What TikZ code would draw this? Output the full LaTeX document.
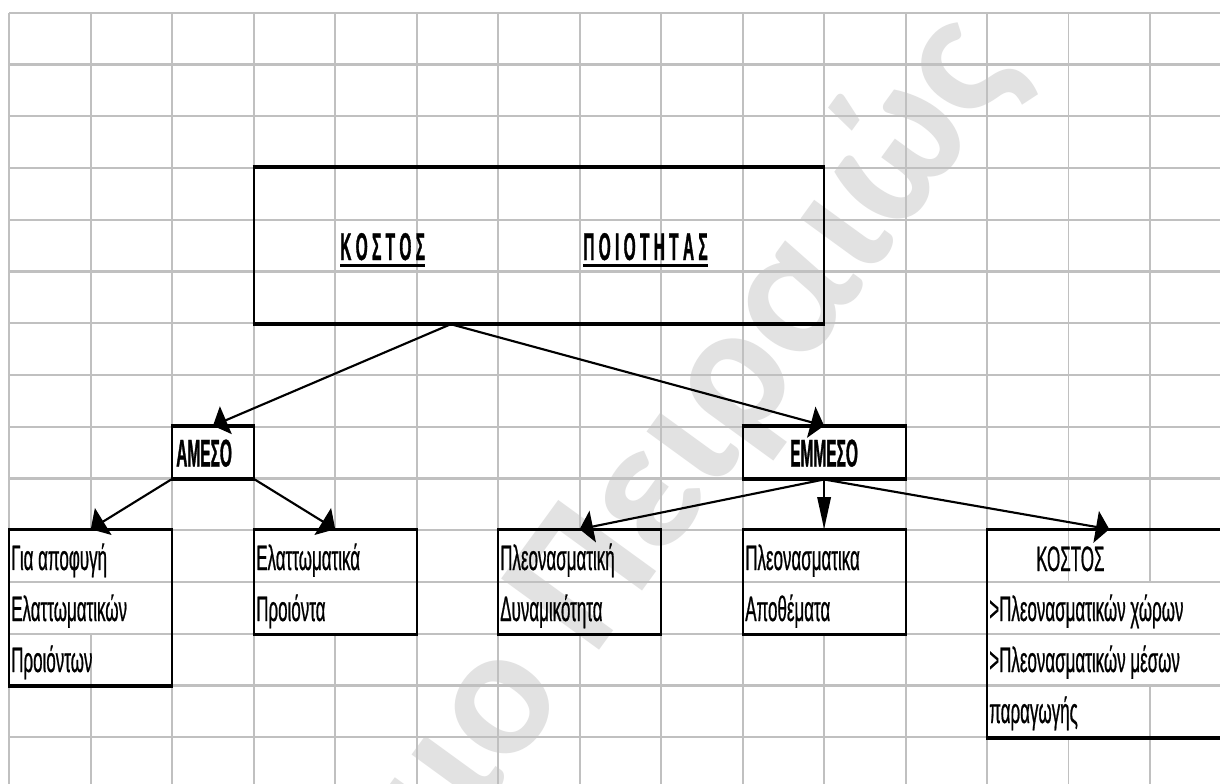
\documentclass[tikz,border=0pt]{standalone}
\usepackage{fontspec}
\setmainfont{Liberation Sans}
\newfontfamily\cellfont[FakeStretch=0.48,FakeBold=0.6]{Liberation Sans}
\newfontfamily\cellbold[FakeStretch=0.40,FakeBold=0.8]{Liberation Sans Bold}
\newfontfamily\markfont{Carlito Bold}
\usetikzlibrary{arrows.meta,calc}

\definecolor{gridgray}{HTML}{C0C0C0}
\definecolor{markgray}{HTML}{E2E2E2}

\tikzset{
  hline/.style={draw=gridgray, line width=1.7pt},
  vline/.style={draw=gridgray, line width=1.4pt},
  cellbox/.style={draw=black, line width=1.5pt, inner sep=0pt, rectangle},
  edgebar/.style={draw=black, line width=2.4pt},
  celltext/.style={inner sep=0pt, anchor=base west, font=\cellfont\fontsize{26.5pt}{26.5pt}\selectfont},
  boldtext/.style={inner sep=0pt, font=\cellbold\fontsize{29pt}{29pt}\selectfont},
  conn/.style={draw=black, line width=1.6pt},
  % arrow heads: short and tall on shallow lines, long and narrow on the vertical one
  flathead/.style={-{Triangle[length=10pt,width=24pt]}},
  steephead/.style={-{Triangle[length=11pt,width=23.5pt]}},
  uprighthead/.style={-{Triangle[length=24pt,width=10pt]}},
  uline/.style={draw=black, line width=2.5pt},
}

\begin{document}
\begin{tikzpicture}[x=0.75pt,y=-0.75pt]
\path[use as bounding box] (0,0) rectangle (1220,783);
\clip (0,0) rectangle (1220,783);
\fill[white] (0,0) rectangle (1220,783);

% watermark
\node[rotate=54, anchor=base east, text=markgray,
      font=\markfont\fontsize{140pt}{140pt}\selectfont] (wm) at (1025,65) {Πανεπιστήμιο Πειραιώς};

% horizontal grid lines
\foreach \j in {0,...,14}
  \draw[hline] (9.3,12.7+51.75*\j) -- (1240,12.7+51.75*\j);

% vertical grid lines that run uninterrupted
\foreach \i in {0,2,3,5,6,8,9,11,12}
  \draw[vline] (9.3+81.48*\i,12.7) -- (9.3+81.48*\i,800);

% vertical grid lines broken where cell text spills over
\foreach \i in {1,4,7} {
  \draw[vline] (9.3+81.48*\i,12.7) -- (9.3+81.48*\i,530.2);
  \draw[vline] (9.3+81.48*\i,633.7) -- (9.3+81.48*\i,800);
}
\draw[vline] (824.1,12.7) -- (824.1,426.7);
\draw[vline] (824.1,478.45) -- (824.1,530.2);
\draw[vline] (824.1,633.7) -- (824.1,800);
\draw[vline] (1068.54,12.7) -- (1068.54,581.95);
\draw[vline] (1068.54,737.2) -- (1068.54,800);
\draw[vline] (1150.02,12.7) -- (1150.02,581.95);
\draw[vline] (1150.02,685.45) -- (1150.02,800);

% boxes
\node[cellbox, minimum width=427.77pt, minimum height=116.44pt] (main) at (538.92,245.575) {};
\node[cellbox, minimum width=61.11pt, minimum height=38.81pt] (ameso) at (213,452.575) {};
\node[cellbox, minimum width=122.22pt, minimum height=38.81pt] (emmeso) at (824.1,452.575) {};
\node[cellbox, minimum width=122.22pt, minimum height=116.44pt] (b1) at (90.78,607.825) {};
\node[cellbox, minimum width=122.22pt, minimum height=77.625pt] (b2) at (335.22,581.95) {};
\node[cellbox, minimum width=122.22pt, minimum height=77.625pt] (b3) at (579.66,581.95) {};
\node[cellbox, minimum width=122.22pt, minimum height=77.625pt] (b4) at (824.1,581.95) {};
\node[cellbox, minimum width=183.33pt, minimum height=155.25pt] (b5) at (1109.28,633.7) {};
\foreach \b in {main,ameso,emmeso,b1,b2,b3,b4,b5} {
  \draw[edgebar] (\b.north west) -- (\b.north east);
  \draw[edgebar] (\b.south west) -- (\b.south east);
}

% title
\node[boldtext, anchor=base west] (t1) at (340,260) {Κ Ο Σ Τ Ο Σ};
\node[boldtext, anchor=base west] (t2) at (583,260) {Π Ο Ι Ο Τ Η Τ Α Σ};
\draw[uline] ([yshift=-4pt]t1.base west) -- ([yshift=-4pt]t1.base east);
\draw[uline] ([yshift=-4pt]t2.base west) -- ([yshift=-4pt]t2.base east);

% branch labels
\node[boldtext, anchor=base west] (l1) at (176,466.5) {ΑΜΕΣΟ};
\node[boldtext, anchor=base] (l2) at (824.1,466.5) {ΕΜΜΕΣΟ};

% cell texts
\node[celltext] (a1) at (11,570) {Για αποφυγή};
\node[celltext] (a2) at (11,621) {Ελαττωματικών};
\node[celltext] (a3) at (11,672) {Προιόντων};
\node[celltext] (c1) at (256,570) {Ελαττωματικά};
\node[celltext] (c2) at (256,621) {Προιόντα};
\node[celltext] (d1) at (500,570) {Πλεονασματική};
\node[celltext] (d2) at (500,621) {Δυναμικότητα};
\node[celltext] (e1) at (745,570) {Πλεονασματικα};
\node[celltext] (e2) at (745,621) {Αποθέματα};
\node[celltext] (f1) at (1036,571) {ΚΟΣΤΟΣ};
\node[celltext] (f2) at (989,621) {>Πλεονασματικών χώρων};
\node[celltext] (f3) at (989,672) {>Πλεονασματικών μέσων};
\node[celltext] (f4) at (989,723) {παραγωγής};

% connectors
\coordinate (mainfoot) at ($(main.south west)!0.346!(main.south east)$);
\draw[conn, -{Triangle[length=10.5pt,width=22.5pt]}] (mainfoot) -- (ameso.north);
\draw[conn, flathead] (mainfoot) -- (emmeso.north);
\draw[conn, steephead] (ameso.south west) -- (b1.north);
\draw[conn, steephead] (ameso.south east) -- (b2.north);
\draw[conn, flathead] (emmeso.south) -- (b3.north);
\draw[conn, uprighthead] (emmeso.south) -- (b4.north);
\draw[conn, flathead] (emmeso.south) -- (b5.north);
\end{tikzpicture}
\end{document}
